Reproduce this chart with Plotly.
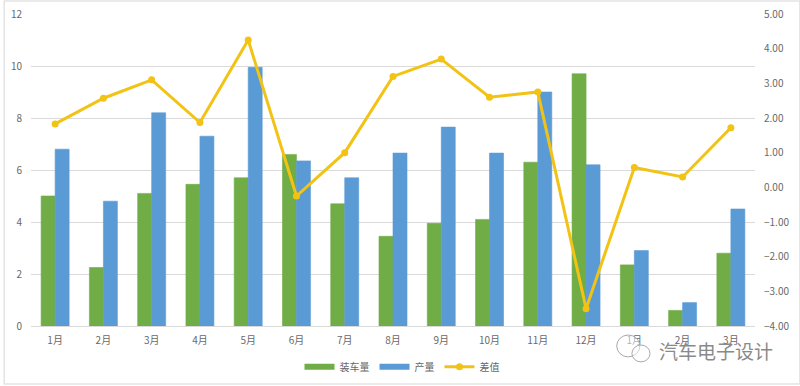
import plotly.graph_objects as go

months = ["1月","2月","3月","4月","5月","6月","7月","8月","9月","10月","11月","12月","1月","2月","3月"]
positions = [f"{i:02d}" for i in range(len(months))]
loading = [5.0,2.25,5.1,5.45,5.7,6.6,4.7,3.45,3.95,4.1,6.3,9.7,2.35,0.6,2.8]
output = [6.8,4.8,8.2,7.3,9.95,6.35,5.7,6.65,7.65,6.65,9.0,6.2,2.9,0.9,4.5]
diff = [1.83,2.57,3.1,1.87,4.25,-0.25,1.0,3.2,3.7,2.6,2.75,-3.5,0.57,0.3,1.72]

GREEN, BLUE, YELLOW = "#70AD47", "#5B9BD5", "#F2C314"
TXT, GRID = "#686868", "#DADADA"
FONT = "Noto Sans CJK SC"

fig = go.Figure()
fig.add_bar(x=positions, y=loading, marker=dict(color=GREEN, line=dict(color=GREEN, width=0.6)),
            showlegend=False, yaxis="y")
fig.add_bar(x=positions, y=output, marker=dict(color=BLUE, line=dict(color=BLUE, width=0.6)),
            showlegend=False, yaxis="y")
fig.add_scatter(x=positions, y=diff, mode="lines+markers", yaxis="y2", showlegend=False,
                line=dict(color=YELLOW, width=3), marker=dict(color=YELLOW, size=7))
# legend keys (wide swatches as in the original)
fig.add_scatter(x=[None], y=[None], mode="lines", name="装车量", line=dict(color=GREEN, width=6))
fig.add_scatter(x=[None], y=[None], mode="lines", name="产量", line=dict(color=BLUE, width=6))
fig.add_scatter(x=[None], y=[None], mode="lines+markers", name="差值",
                line=dict(color=YELLOW, width=3), marker=dict(color=YELLOW, size=7))

fig.update_layout(
    width=800, height=386, margin=dict(l=31, r=45, t=14, b=60, autoexpand=False),
    paper_bgcolor="white", plot_bgcolor="white",
    font=dict(family=FONT, size=10, color=TXT),
    barmode="group", bargap=0.42, bargroupgap=0,
    legend=dict(orientation="h", x=0.5025, xref="container", xanchor="center", y=0.012, yanchor="bottom",
                yref="container", itemwidth=30, font=dict(size=10, color=TXT), tracegroupgap=0,
                bgcolor="rgba(0,0,0,0)"),
    xaxis=dict(type="category", categoryorder="array", categoryarray=positions,
               range=[-0.5, len(positions) - 0.5], tickmode="array", tickvals=positions, ticktext=months,
               showgrid=False, showline=True, linecolor=GRID, ticks="", ticklen=0, tickangle=0,
               ticklabelstandoff=5),
    yaxis=dict(range=[0, 12], dtick=2, showgrid=True, gridcolor=GRID, gridwidth=1,
               zeroline=False, ticks="", ticklen=0, ticklabelstandoff=8),
    yaxis2=dict(range=[-4, 5], dtick=1, tickformat=".2f", overlaying="y", side="right",
                showgrid=False, zeroline=False, ticks="", ticklen=0, ticklabelstandoff=8),
    annotations=[dict(text="汽车电子设计", xref="paper", yref="paper", x=1.0276, y=-0.08,
                      xanchor="right", yanchor="middle", showarrow=False,
                      font=dict(family=FONT, size=19, color="#8A8A8A"))],
    shapes=[
        dict(type="rect", xref="paper", yref="paper", x0=-0.037, x1=1.062, y0=-0.186, y1=1.042,
             line=dict(color="#E3E3E3", width=1.5), layer="below"),
        dict(type="circle", xref="paper", yref="paper", x0=0.809, x1=0.841, y0=-0.099, y1=-0.029,
             line=dict(color="#A8A8A8", width=1), fillcolor="rgba(255,255,255,0.5)"),
        dict(type="circle", xref="paper", yref="paper", x0=0.830, x1=0.855, y0=-0.115, y1=-0.061,
             line=dict(color="#A8A8A8", width=1), fillcolor="rgba(255,255,255,0.5)"),
    ],
)
fig.write_html("out.html", config=dict(displayModeBar=False), post_script="document.body.style.margin='0';")
